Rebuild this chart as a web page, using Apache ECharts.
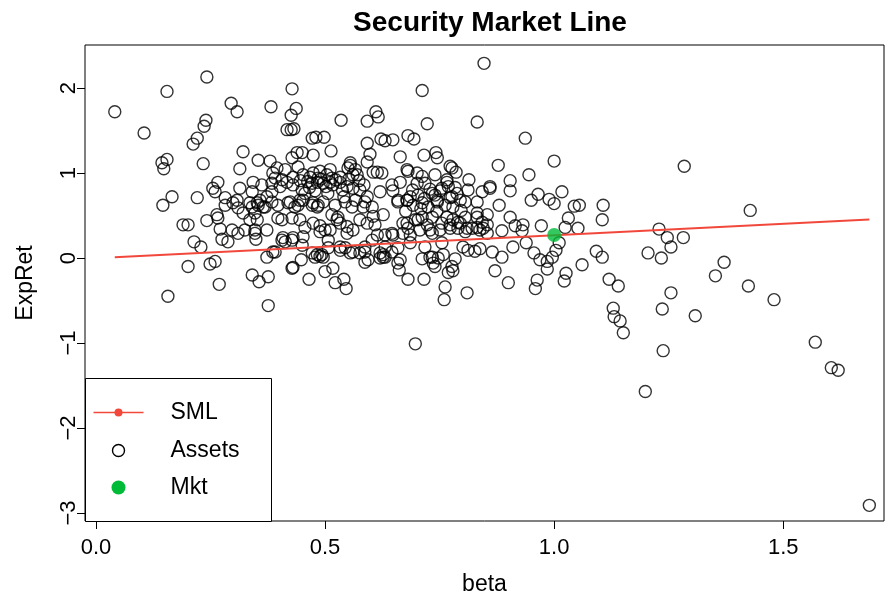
<!DOCTYPE html>
<html>
<head>
<meta charset="utf-8">
<script src="https://cdn.jsdelivr.net/npm/echarts@6/dist/echarts.min.js"></script>
<style>
  html, body { margin: 0; padding: 0; background: #fff; }
  #chart { width: 890px; height: 601px; }
</style>
</head>
<body>
<div id="chart"></div>
<script>
// Asset betas and expected returns: [beta, ExpRet]
const assetPoints = [
  [0.041,1.72],[0.105,1.47],[0.155,1.96],[0.242,2.13],[0.295,1.82],[0.308,1.72],[0.382,1.78],[0.240,1.62],
  [0.236,1.55],[0.221,1.41],[0.212,1.34],[0.321,1.25],[0.155,1.16],[0.144,1.12],[0.148,1.05],[0.234,1.11],
  [0.314,1.05],[0.354,1.15],[0.380,1.14],[0.395,1.06],[0.386,1.00],[0.391,0.94],[0.266,0.89],[0.255,0.82],
  [0.260,0.78],[0.166,0.72],[0.221,0.71],[0.146,0.62],[0.314,0.82],[0.343,0.89],[0.362,0.86],[0.341,0.78],
  [0.384,0.88],[0.406,0.92],[0.417,1.51],[0.282,0.71],[0.308,0.68],[0.358,0.68],[0.373,0.72],

  [0.847,2.29],[0.428,1.99],[0.712,1.97],[0.437,1.76],[0.426,1.68],[0.535,1.62],[0.611,1.72],[0.616,1.66],
  [0.592,1.61],[0.723,1.58],[0.832,1.60],[0.426,1.51],[0.432,1.52],[0.472,1.41],[0.480,1.42],[0.498,1.42],
  [0.513,1.26],[0.474,1.21],[0.592,1.35],[0.622,1.40],[0.631,1.38],[0.648,1.39],[0.681,1.44],[0.694,1.40],
  [0.598,1.22],[0.592,1.13],[0.664,1.19],[0.716,1.21],[0.742,1.24],[0.745,1.18],[0.428,1.18],[0.439,1.24],
  [0.450,1.24],[0.441,1.07],[0.555,1.12],[0.550,1.06],[0.605,1.01],[0.624,1.00],[0.681,1.02],[0.701,1.00],
  [0.712,0.96],[0.740,0.98],[0.773,1.08],[0.777,1.06],[0.786,1.01],[0.814,0.92],[0.812,0.80],[0.843,0.78],
  [0.766,0.89],[0.769,0.84],[0.489,1.02],[0.511,1.04],[0.413,1.04],[0.467,0.95],[0.485,0.94],[0.570,0.98],
  [0.574,0.91],[0.664,0.89],[0.646,0.86],[0.648,0.79],[0.701,0.88],[0.620,0.78],[0.729,0.81],[0.734,0.76],
  [0.703,0.74],[0.686,0.72],[0.788,0.76],[0.777,0.72],[0.659,0.68],

  [0.679,1.04],[0.614,1.01],[0.430,0.95],[0.452,0.98],[0.474,1.00],[0.504,0.98],[0.515,0.94],[0.533,0.95],
  [0.555,1.09],[0.566,1.04],[0.561,0.98],[0.354,0.62],[0.365,0.60],[0.336,0.65],[0.384,0.78],[0.402,0.84],
  [0.417,0.89],[0.430,0.86],[0.450,0.80],[0.456,0.76],[0.472,0.88],[0.483,0.89],[0.496,0.88],[0.511,0.89],
  [0.517,0.86],[0.533,0.89],[0.548,0.84],[0.561,0.82],[0.576,0.80],[0.592,0.72],[0.583,0.60],[0.566,0.68],
  [0.679,0.68],[0.627,0.51],[0.424,0.66],[0.434,0.60],[0.445,0.68],[0.472,0.62],[0.483,0.60],[0.496,0.66],
  [0.515,0.51],[0.526,0.45],[0.397,0.47],[0.428,0.47],[0.445,0.45],[0.456,0.36],[0.474,0.41],[0.489,0.38],
  [0.511,0.33],[0.533,0.41],[0.548,0.37],[0.561,0.33],[0.576,0.45],[0.592,0.41],[0.605,0.49],[0.321,0.53],
  [0.336,0.45],[0.347,0.33],[0.373,0.33],[0.408,0.24],[0.430,0.24],[0.452,0.25],[0.472,0.06],[0.483,0.04],
  [0.493,0.04],[0.507,0.12],[0.533,0.09],[0.555,0.06],[0.587,0.07],[0.620,0.06],[0.627,0.01],[0.646,0.07],
  [0.664,-0.02],[0.603,0.21],[0.614,0.27],[0.648,0.27],[0.670,0.41],[0.386,0.07],[0.430,-0.11],
  [0.462,0.90],[0.491,0.93],[0.502,0.84],[0.523,0.92],[0.538,0.80],[0.466,0.83],[0.446,0.91],[0.552,0.93],
  [0.585,0.86],[0.478,0.79],[0.506,0.76],[0.541,0.72],[0.691,0.80],[0.717,0.70],[0.751,0.79],[0.784,0.83],
  [0.744,0.55],[0.709,0.58],[0.676,0.55],[0.797,0.56],

  [0.190,0.39],[0.201,0.39],[0.242,0.44],[0.264,0.51],[0.266,0.47],[0.214,0.19],[0.229,0.13],[0.271,0.34],
  [0.275,0.22],[0.288,0.19],[0.297,0.33],[0.310,0.29],[0.325,0.33],[0.349,0.22],[0.347,0.29],[0.352,0.45],
  [0.406,0.45],[0.406,0.21],[0.373,0.01],[0.391,0.07],[0.201,-0.10],[0.249,-0.07],[0.260,-0.04],[0.269,-0.31],
  [0.341,-0.20],[0.356,-0.28],[0.376,-0.22],[0.157,-0.45],[0.376,-0.56],[0.282,0.62],[0.299,0.65],[0.310,0.59],
  [0.341,0.60],[0.347,0.53],[0.352,0.65],[0.369,0.60],[0.397,0.62],[0.384,0.66],

  [0.428,-0.12],[0.465,-0.25],[0.448,-0.02],[0.500,-0.16],[0.517,-0.12],[0.522,-0.29],[0.541,-0.25],[0.546,-0.36],
  [0.478,0.01],[0.489,0.02],[0.496,0.01],[0.587,-0.05],[0.594,-0.02],[0.620,0.00],[0.627,0.04],[0.631,0.01],
  [0.659,-0.06],[0.662,-0.14],[0.681,-0.25],[0.716,-0.25],[0.712,-0.01],[0.734,0.01],[0.736,-0.06],[0.740,-0.10],
  [0.747,0.00],[0.758,0.04],[0.784,-0.01],[0.769,-0.17],[0.779,-0.15],[0.762,-0.34],[0.760,-0.49],[0.810,-0.41],
  [0.697,-1.01],[0.801,0.13],[0.812,0.09],[0.827,0.08],[0.838,0.11],[0.659,0.12],[0.413,0.19],[0.428,0.21],
  [0.450,0.15],[0.507,0.21],[0.533,0.13],[0.544,0.12],[0.561,0.07],[0.576,0.06],[0.500,0.33],[0.489,0.31],
  [0.419,0.65],[0.441,0.62],[0.452,0.68],[0.474,0.65],[0.485,0.62],[0.522,0.62],[0.544,0.66],[0.559,0.60],
  [0.587,0.66],[0.603,0.60],[0.659,0.66],[0.692,0.62],[0.712,0.65],[0.725,0.60],[0.745,0.66],[0.762,0.62],
  [0.779,0.60],[0.806,0.66],[0.832,0.53],[0.843,0.42],[0.528,0.48],[0.548,0.29],[0.609,0.39],[0.631,0.27],
  [0.646,0.29],[0.681,0.35],[0.703,0.45],[0.712,0.48],[0.723,0.39],[0.734,0.29],[0.755,0.41],[0.790,0.42],
  [0.806,0.31],[0.821,0.35],[0.838,0.33],[0.587,0.13],[0.631,0.13],[0.686,0.18],[0.718,0.13],[0.755,0.18],

  [0.766,0.92],[0.718,0.88],[0.860,0.84],[0.755,0.82],[0.679,0.68],[0.745,0.68],[0.773,0.71],[0.795,0.68],
  [0.832,0.66],[0.740,0.74],[0.854,0.51],[0.832,0.48],[0.806,0.48],[0.779,0.45],[0.766,0.48],[0.845,0.35],
  [0.832,0.36],[0.810,0.35],[0.795,0.41],[0.773,0.39],[0.734,0.48],[0.697,0.45],[0.679,0.41],[0.670,0.29],
  [0.686,0.27],[0.707,0.33],[0.729,0.33],[0.751,0.33],[0.773,0.35],[0.790,0.35],[0.729,0.01],[0.777,-0.10],

  [0.937,1.41],[0.878,1.09],[1.000,1.14],[0.945,0.98],[0.904,0.91],[0.904,0.79],[0.860,0.82],[0.965,0.75],
  [1.017,0.78],[0.950,0.68],[0.989,0.69],[1.000,0.64],[0.880,0.62],[1.044,0.61],[1.055,0.62],[1.107,0.62],
  [1.284,1.08],[1.105,0.45],[0.854,0.39],[0.854,0.29],[0.904,0.48],[0.915,0.38],[0.932,0.39],[0.930,0.32],
  [0.886,0.32],[0.972,0.38],[1.031,0.47],[1.024,0.36],[1.052,0.35],[0.939,0.18],[0.910,0.13],[0.865,0.07],
  [0.886,0.01],[0.956,0.06],[0.969,-0.02],[0.985,-0.04],[0.996,0.01],[1.004,0.09],[1.011,0.18],[0.985,-0.13],
  [0.871,-0.15],[0.900,-0.29],[0.963,-0.26],[0.959,-0.36],[1.026,-0.18],[1.022,-0.27],[1.061,-0.08],[1.092,0.08],
  [1.105,0.01],[1.120,-0.25],[1.140,-0.33],[1.129,-0.59],[1.131,-0.69],[1.144,-0.74],[1.151,-0.88],[1.229,0.34],
  [1.247,0.24],[1.255,0.13],[1.205,0.06],[1.234,0.00],[1.282,0.24],[1.255,-0.41],[1.236,-0.60],[1.238,-1.09],
  [1.428,0.56],[1.371,-0.05],[1.352,-0.21],[1.424,-0.33],[1.480,-0.49],[1.308,-0.68],[1.570,-0.99],[1.199,-1.57],
  [1.605,-1.29],[1.620,-1.32],[1.688,-2.91]
];

// Security market line endpoints (beta range of the assets)
const smlBeta = [0.041, 1.688];
const smlRet = [0.008, 0.454];

// Market portfolio
const mktBeta = 1.0;
const mktRet = 0.27;

const xTicks = [0, 0.5, 1, 1.5];
const xTickLabels = ['0.0', '0.5', '1.0', '1.5'];
const yTicks = [-3, -2, -1, 0, 1, 2];

const legendItems = ['SML', 'Assets', 'Mkt'];

const FONT = 'Liberation Sans, Arial, Helvetica, sans-serif';
const RED = '#F2483C';
const GREEN = '#00BB38';

const chart = echarts.init(document.getElementById('chart'), null, { renderer: 'canvas' });

const option = {
  backgroundColor: '#ffffff',
  animation: false,
  title: {
    text: 'Security Market Line',
    left: 485, top: 4, textAlign: 'center',
    textStyle: { fontFamily: FONT, fontSize: 28, fontWeight: 'bold', color: '#000' }
  },
  grid: {
    left: 85, top: 45, width: 799, height: 476,
    show: true, borderColor: '#000', borderWidth: 1, backgroundColor: 'transparent'
  },
  xAxis: {
    type: 'value', min: -0.024, max: 1.72,
    name: 'beta', nameLocation: 'middle', nameGap: 52,
    nameTextStyle: { fontFamily: FONT, fontSize: 23, color: '#000' },
    axisLine: { show: false, onZero: false },
    splitLine: { show: false },
    axisTick: { show: true, inside: false, length: 8, lineStyle: { color: '#000', width: 1 },
                customValues: xTicks },
    axisLabel: {
      show: true, margin: 16, fontFamily: FONT, fontSize: 22, color: '#000',
      customValues: xTicks,
      formatter: v => xTickLabels[xTicks.indexOf(Math.round(v * 10) / 10)] ?? ''
    }
  },
  yAxis: {
    type: 'value', min: -3.094, max: 2.506,
    name: 'ExpRet', nameLocation: 'middle', nameGap: 48, nameRotate: 90,
    nameTextStyle: { fontFamily: FONT, fontSize: 23, color: '#000' },
    axisLine: { show: false, onZero: false },
    splitLine: { show: false },
    axisTick: { show: true, inside: false, length: 8, lineStyle: { color: '#000', width: 1 },
                customValues: yTicks },
    axisLabel: {
      show: true, margin: 5, rotate: 90, fontFamily: FONT, fontSize: 22, color: '#000',
      customValues: yTicks,
      formatter: v => String(Math.round(v)).replace('-', '\u2212')
    }
  },
  series: [
    {
      name: 'Assets', type: 'scatter',
      data: assetPoints,
      symbol: 'circle', symbolSize: 12,
      itemStyle: { color: 'rgba(0,0,0,0)', borderColor: '#000', borderWidth: 1.4 },
      emphasis: { disabled: true },
      z: 2
    },
    {
      name: 'SML', type: 'line',
      data: smlBeta.map((b, i) => [b, smlRet[i]]),
      showSymbol: false,
      lineStyle: { color: RED, width: 2 },
      z: 3
    },
    {
      name: 'Mkt', type: 'scatter',
      data: [[mktBeta, mktRet]],
      symbol: 'circle', symbolSize: 14,
      itemStyle: { color: GREEN },
      z: 4
    }
  ],
  graphic: [
    {
      type: 'group', left: 85, top: 378, z: 100,
      children: [
        { type: 'rect', shape: { x: 0, y: 0, width: 186, height: 143 },
          style: { fill: '#fff', stroke: '#000', lineWidth: 1 } },
        { type: 'line', shape: { x1: 8, y1: 34, x2: 58, y2: 34 },
          style: { stroke: RED, lineWidth: 1.5 } },
        { type: 'circle', shape: { cx: 33, cy: 34, r: 4 }, style: { fill: RED } },
        { type: 'circle', shape: { cx: 33, cy: 72, r: 6 },
          style: { fill: 'none', stroke: '#000', lineWidth: 1.4 } },
        { type: 'circle', shape: { cx: 33, cy: 109, r: 7 }, style: { fill: GREEN } },
        { type: 'text', x: 85, y: 34, style: { text: legendItems[0], fontFamily: FONT, fontSize: 23, fill: '#000', verticalAlign: 'middle' } },
        { type: 'text', x: 85, y: 72, style: { text: legendItems[1], fontFamily: FONT, fontSize: 23, fill: '#000', verticalAlign: 'middle' } },
        { type: 'text', x: 85, y: 109, style: { text: legendItems[2], fontFamily: FONT, fontSize: 23, fill: '#000', verticalAlign: 'middle' } }
      ]
    }
  ]
};

chart.setOption(option);
</script>
</body>
</html>
